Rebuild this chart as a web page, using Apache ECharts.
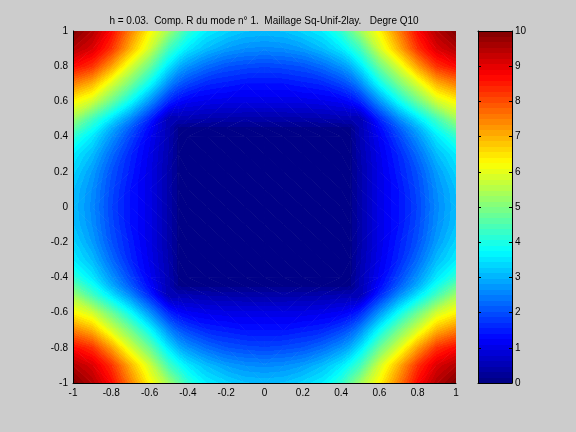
<!DOCTYPE html>
<html>
<head>
<meta charset="utf-8">
<script src="https://cdn.jsdelivr.net/npm/echarts@6/dist/echarts.min.js"></script>
<style>
  html, body { margin: 0; background: #cccccc; }
  #main { width: 576px; height: 432px; }
</style>
</head>
<body>
<div id="main"></div>
<script>
// chart data
var titleText = "h = 0.03.  Comp. R du mode n° 1.  Maillage Sq-Unif-2lay.   Degre Q10";
var gridX = [-1, -0.9, -0.8, -0.7, -0.6, -0.5, -0.45, -0.4, -0.3, -0.2, -0.1, 0, 0.1, 0.2, 0.3, 0.4, 0.45, 0.5, 0.6, 0.7, 0.8, 0.9, 1];
var gridY = [1, 0.9, 0.8, 0.7, 0.6, 0.5, 0.45, 0.4, 0.3, 0.2, 0.1, 0, -0.1, -0.2, -0.3, -0.4, -0.45, -0.5, -0.6, -0.7, -0.8, -0.9, -1];
// one row per gridY value (top to bottom), one column per gridX value
var fieldRows = [
  [10, 9.5, 8.7, 7.5, 6.3, 5.3, 4.75, 4.2, 3.6, 3.35, 3.15, 3.1, 3.15, 3.35, 3.6, 4.2, 4.75, 5.3, 6.3, 7.5, 8.7, 9.5, 10],
  [9.5, 9.1, 8.3, 7.0, 5.8, 4.4, 3.95, 3.55, 3.1, 2.8, 2.65, 2.6, 2.65, 2.8, 3.1, 3.55, 3.95, 4.4, 5.8, 7.0, 8.3, 9.1, 9.5],
  [8.7, 8.3, 7.2, 5.9, 4.8, 3.5, 3.0, 2.7, 2.3, 2.05, 1.95, 1.9, 1.95, 2.05, 2.3, 2.7, 3.0, 3.5, 4.8, 5.9, 7.2, 8.3, 8.7],
  [7.5, 7.0, 5.9, 4.9, 3.8, 2.6, 2.15, 1.9, 1.6, 1.5, 1.4, 1.4, 1.4, 1.5, 1.6, 1.9, 2.15, 2.6, 3.8, 4.9, 5.9, 7.0, 7.5],
  [6.3, 5.8, 4.8, 3.8, 2.7, 1.6, 1.3, 1.15, 1.05, 1.0, 1.0, 1.0, 1.0, 1.0, 1.05, 1.15, 1.3, 1.6, 2.7, 3.8, 4.8, 5.8, 6.3],
  [5.3, 4.4, 3.5, 2.6, 1.6, 0.5, 0.5, 0.5, 0.45, 0.42, 0.4, 0.4, 0.4, 0.42, 0.45, 0.5, 0.5, 0.5, 1.6, 2.6, 3.5, 4.4, 5.3],
  [4.75, 3.95, 3.0, 2.15, 1.3, 0.5, 0.15, 0.13, 0.12, 0.12, 0.12, 0.12, 0.12, 0.12, 0.12, 0.13, 0.15, 0.5, 1.3, 2.15, 3.0, 3.95, 4.75],
  [4.2, 3.55, 2.7, 1.9, 1.15, 0.5, 0.13, 0.1, 0.1, 0.1, 0.1, 0.1, 0.1, 0.1, 0.1, 0.1, 0.13, 0.5, 1.15, 1.9, 2.7, 3.55, 4.2],
  [3.6, 3.1, 2.3, 1.6, 1.05, 0.45, 0.12, 0.1, 0.1, 0.1, 0.1, 0.1, 0.1, 0.1, 0.1, 0.1, 0.12, 0.45, 1.05, 1.6, 2.3, 3.1, 3.6],
  [3.35, 2.8, 2.05, 1.5, 1.0, 0.42, 0.12, 0.1, 0.1, 0.1, 0.1, 0.1, 0.1, 0.1, 0.1, 0.1, 0.12, 0.42, 1.0, 1.5, 2.05, 2.8, 3.35],
  [3.15, 2.65, 1.95, 1.4, 1.0, 0.4, 0.12, 0.1, 0.1, 0.1, 0.1, 0.1, 0.1, 0.1, 0.1, 0.1, 0.12, 0.4, 1.0, 1.4, 1.95, 2.65, 3.15],
  [3.1, 2.6, 1.9, 1.4, 1.0, 0.4, 0.12, 0.1, 0.1, 0.1, 0.1, 0.1, 0.1, 0.1, 0.1, 0.1, 0.12, 0.4, 1.0, 1.4, 1.9, 2.6, 3.1],
  [3.15, 2.65, 1.95, 1.4, 1.0, 0.4, 0.12, 0.1, 0.1, 0.1, 0.1, 0.1, 0.1, 0.1, 0.1, 0.1, 0.12, 0.4, 1.0, 1.4, 1.95, 2.65, 3.15],
  [3.35, 2.8, 2.05, 1.5, 1.0, 0.42, 0.12, 0.1, 0.1, 0.1, 0.1, 0.1, 0.1, 0.1, 0.1, 0.1, 0.12, 0.42, 1.0, 1.5, 2.05, 2.8, 3.35],
  [3.6, 3.1, 2.3, 1.6, 1.05, 0.45, 0.12, 0.1, 0.1, 0.1, 0.1, 0.1, 0.1, 0.1, 0.1, 0.1, 0.12, 0.45, 1.05, 1.6, 2.3, 3.1, 3.6],
  [4.2, 3.55, 2.7, 1.9, 1.15, 0.5, 0.13, 0.1, 0.1, 0.1, 0.1, 0.1, 0.1, 0.1, 0.1, 0.1, 0.13, 0.5, 1.15, 1.9, 2.7, 3.55, 4.2],
  [4.75, 3.95, 3.0, 2.15, 1.3, 0.5, 0.15, 0.13, 0.12, 0.12, 0.12, 0.12, 0.12, 0.12, 0.12, 0.13, 0.15, 0.5, 1.3, 2.15, 3.0, 3.95, 4.75],
  [5.3, 4.4, 3.5, 2.6, 1.6, 0.5, 0.5, 0.5, 0.45, 0.42, 0.4, 0.4, 0.4, 0.42, 0.45, 0.5, 0.5, 0.5, 1.6, 2.6, 3.5, 4.4, 5.3],
  [6.3, 5.8, 4.8, 3.8, 2.7, 1.6, 1.3, 1.15, 1.05, 1.0, 1.0, 1.0, 1.0, 1.0, 1.05, 1.15, 1.3, 1.6, 2.7, 3.8, 4.8, 5.8, 6.3],
  [7.5, 7.0, 5.9, 4.9, 3.8, 2.6, 2.15, 1.9, 1.6, 1.5, 1.4, 1.4, 1.4, 1.5, 1.6, 1.9, 2.15, 2.6, 3.8, 4.9, 5.9, 7.0, 7.5],
  [8.7, 8.3, 7.2, 5.9, 4.8, 3.5, 3.0, 2.7, 2.3, 2.05, 1.95, 1.9, 1.95, 2.05, 2.3, 2.7, 3.0, 3.5, 4.8, 5.9, 7.2, 8.3, 8.7],
  [9.5, 9.1, 8.3, 7.0, 5.8, 4.4, 3.95, 3.55, 3.1, 2.8, 2.65, 2.6, 2.65, 2.8, 3.1, 3.55, 3.95, 4.4, 5.8, 7.0, 8.3, 9.1, 9.5],
  [10, 9.5, 8.7, 7.5, 6.3, 5.3, 4.75, 4.2, 3.6, 3.35, 3.15, 3.1, 3.15, 3.35, 3.6, 4.2, 4.75, 5.3, 6.3, 7.5, 8.7, 9.5, 10]
];
var colorRange = [0, 10];
var colorLevels = 64;

var fontFamily = "'Liberation Sans', Arial, sans-serif";
var cmin = colorRange[0], cmax = colorRange[1];

// matlab jet colormap
function jetColor(v) {
  var t = Math.max(0, Math.min(1, (v - cmin) / (cmax - cmin)));
  function ch(c) { return Math.round(255 * Math.max(0, Math.min(1, 1.5 - Math.abs(4 * t - c)))); }
  return "rgb(" + ch(3) + "," + ch(2) + "," + ch(1) + ")";
}
function bandColor(k) {
  return jetColor(cmin + (k + 0.5) / colorLevels * (cmax - cmin));
}
function bandOf(v) {
  var k = Math.floor((v - cmin) / (cmax - cmin) * colorLevels);
  return Math.max(0, Math.min(colorLevels - 1, k));
}
var bandStep = (cmax - cmin) / colorLevels;

// stepped stops between vmin and vmax (like the 64 colour map)
function bandStops(vmin, vmax) {
  var stops = [];
  var k0 = bandOf(vmin), k1 = bandOf(vmax);
  for (var k = k0; k <= k1; k++) {
    var a = Math.max(0, (cmin + k * bandStep - vmin) / (vmax - vmin));
    var b = Math.min(1, (cmin + (k + 1) * bandStep - vmin) / (vmax - vmin));
    stops.push({ offset: a, color: bandColor(k) });
    stops.push({ offset: b, color: bandColor(k) });
  }
  return stops;
}

// fill a triangle with the colour of a linear field (shading interp)
function triFill(P, V) {
  var vmin = Math.min(V[0], V[1], V[2]), vmax = Math.max(V[0], V[1], V[2]);
  if (bandOf(vmin) === bandOf(vmax)) return bandColor(bandOf(vmin));
  var d1x = P[1][0] - P[0][0], d1y = P[1][1] - P[0][1];
  var d2x = P[2][0] - P[0][0], d2y = P[2][1] - P[0][1];
  var dv1 = V[1] - V[0], dv2 = V[2] - V[0];
  var det = d1x * d2y - d1y * d2x;
  var gx = (dv1 * d2y - d1y * dv2) / det;
  var gy = (d1x * dv2 - dv1 * d2x) / det;
  var gg = gx * gx + gy * gy;
  return {
    type: "linear", global: true,
    x: P[0][0] + gx * (vmin - V[0]) / gg, y: P[0][1] + gy * (vmin - V[0]) / gg,
    x2: P[0][0] + gx * (vmax - V[0]) / gg, y2: P[0][1] + gy * (vmax - V[0]) / gg,
    colorStops: bandStops(vmin, vmax)
  };
}

function makeTri(P, V) {
  var cx = (P[0][0] + P[1][0] + P[2][0]) / 3, cy = (P[0][1] + P[1][1] + P[2][1]) / 3;
  // grow a little so neighbouring triangles leave no seam
  var pts = P.map(function (p) {
    var dx = p[0] - cx, dy = p[1] - cy, d = Math.sqrt(dx * dx + dy * dy) || 1;
    return [p[0] + dx / d * 0.7, p[1] + dy / d * 0.7];
  });
  return { type: "polygon", shape: { points: pts }, style: { fill: triFill(P, V) }, silent: true };
}

// cells of the grid: corners and their four values
var cells = [];
for (var r = 0; r < gridY.length - 1; r++) {
  for (var c = 0; c < gridX.length - 1; c++) {
    cells.push([gridX[c], gridY[r], gridX[c + 1], gridY[r + 1],
      fieldRows[r][c], fieldRows[r][c + 1], fieldRows[r + 1][c], fieldRows[r + 1][c + 1]]);
  }
}

function renderCell(params, api) {
  var x0 = api.value(0), y0 = api.value(1), x1 = api.value(2), y1 = api.value(3);
  var vA = api.value(4), vB = api.value(5), vC = api.value(6), vD = api.value(7);
  var pA = api.coord([x0, y0]), pB = api.coord([x1, y0]);
  var pC = api.coord([x0, y1]), pD = api.coord([x1, y1]);
  var kids;
  if (Math.abs(vA - vD) <= Math.abs(vB - vC)) {
    kids = [makeTri([pA, pB, pD], [vA, vB, vD]), makeTri([pA, pD, pC], [vA, vD, vC])];
  } else {
    kids = [makeTri([pA, pB, pC], [vA, vB, vC]), makeTri([pB, pD, pC], [vB, vD, vC])];
  }
  return { type: "group", children: kids };
}

function renderBar(params, api) {
  var p0 = api.coord([0, api.value(0)]);
  var p1 = api.coord([1, api.value(1)]);
  var stops = [];
  for (var k = 0; k < colorLevels; k++) {
    stops.push({ offset: k / colorLevels, color: bandColor(k) });
    stops.push({ offset: (k + 1) / colorLevels, color: bandColor(k) });
  }
  return {
    type: "rect",
    shape: { x: p0[0], y: p1[1], width: p1[0] - p0[0], height: p0[1] - p1[1] },
    style: { fill: { type: "linear", x: 0, y: 1, x2: 0, y2: 0, colorStops: stops } },
    silent: true
  };
}

var labelStyle = { color: "#000", fontSize: 10, fontFamily: fontFamily };

var myChart = echarts.init(document.getElementById("main"));
var option = {
  backgroundColor: "#cccccc",
  animation: false,
  title: {
    text: titleText, left: 264, top: 16, padding: 0, textAlign: "center",
    textStyle: { color: "#000", fontSize: 10, fontWeight: "normal", fontFamily: fontFamily }
  },
  grid: [
    { left: 73, right: 120, top: 31, bottom: 49 },
    { left: 478, right: 64, top: 31, bottom: 49 }
  ],
  xAxis: [
    {
      gridIndex: 0, type: "value", min: -1, max: 1, interval: 0.2, z: 5,
      axisLine: { show: true, onZero: false, lineStyle: { color: "#000" } },
      axisTick: { show: false }, splitLine: { show: false },
      axisLabel: Object.assign({ margin: 5 }, labelStyle)
    },
    {
      gridIndex: 1, type: "value", min: 0, max: 1, z: 5,
      axisLine: { show: true, onZero: false, lineStyle: { color: "#000" } },
      axisTick: { show: false }, axisLabel: { show: false }, splitLine: { show: false }
    },
    {
      gridIndex: 1, type: "value", min: 0, max: 1, position: "top", z: 5,
      axisLine: { show: true, onZero: false, lineStyle: { color: "#000" } },
      axisTick: { show: false }, axisLabel: { show: false }, splitLine: { show: false }
    }
  ],
  yAxis: [
    {
      gridIndex: 0, type: "value", min: -1, max: 1, interval: 0.2, z: 5,
      axisLine: { show: true, onZero: false, lineStyle: { color: "#000" } },
      axisTick: { show: false }, splitLine: { show: false },
      axisLabel: Object.assign({ margin: 5 }, labelStyle)
    },
    {
      gridIndex: 1, type: "value", min: 0, max: 10, interval: 1, position: "right", z: 5,
      axisLine: { show: true, onZero: false, lineStyle: { color: "#000" } },
      axisTick: { show: true, inside: true, length: 3, lineStyle: { color: "#000" } },
      splitLine: { show: false },
      axisLabel: Object.assign({ margin: 3 }, labelStyle)
    },
    {
      gridIndex: 1, type: "value", min: 0, max: 10, interval: 1, position: "left", z: 5,
      axisLine: { show: true, onZero: false, lineStyle: { color: "#000" } },
      axisTick: { show: true, inside: true, length: 3, lineStyle: { color: "#000" } },
      splitLine: { show: false }, axisLabel: { show: false }
    }
  ],
  series: [
    {
      type: "custom", xAxisIndex: 0, yAxisIndex: 0, clip: true,
      renderItem: renderCell,
      encode: { x: [0, 2], y: [1, 3] },
      data: cells
    },
    {
      type: "custom", xAxisIndex: 1, yAxisIndex: 1,
      renderItem: renderBar,
      encode: { y: [0, 1] },
      data: [colorRange]
    }
  ]
};
myChart.setOption(option);
</script>
</body>
</html>
